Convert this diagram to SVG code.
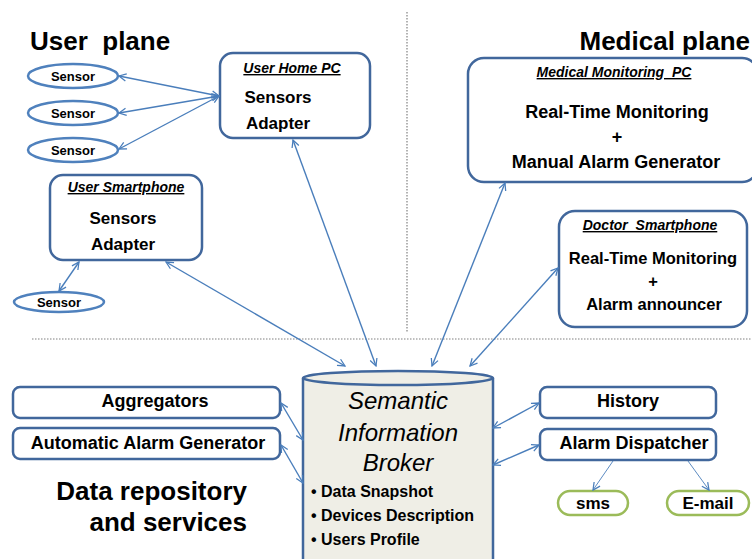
<svg xmlns="http://www.w3.org/2000/svg" width="752" height="559" viewBox="0 0 752 559">
<defs>
<marker id="ah" viewBox="0 0 10 10" refX="9" refY="5" markerWidth="9" markerHeight="9" markerUnits="userSpaceOnUse" orient="auto-start-reverse">
<path d="M1,1 L9,5 L1,9" fill="none" stroke="#4a7ebb" stroke-width="1.4"/>
</marker>
<style>
.box{fill:#fff;stroke:#41679c;stroke-width:2.5}
.sen{fill:#fff;stroke:#4f81bd;stroke-width:2.5}
.grn{fill:#fff;stroke:#9bbb59;stroke-width:2.5}
.ln{stroke:#4a7ebb;stroke-width:1.4;fill:none;marker-end:url(#ah)}
.bi{marker-start:url(#ah)}
.thin{stroke-width:0.9}
.dot{stroke:#808080;stroke-width:1.2;stroke-dasharray:1.5 1.5;fill:none}
text{font-family:"Liberation Sans",Arial,sans-serif;fill:#000}
.t{font-size:26px;font-weight:bold}
.s{font-size:13px;font-weight:bold;text-anchor:middle}
.h{font-size:14px;font-weight:bold;font-style:italic;text-decoration:underline;text-anchor:middle}
.b{font-size:17px;font-weight:bold;text-anchor:middle}
.bb{font-size:18px;font-weight:bold;text-anchor:middle}
.m{font-size:16.5px;font-weight:bold;text-anchor:middle}
.sib{font-size:24px;font-style:italic;text-anchor:middle}
.bl{font-size:16px;font-weight:bold}
</style>
</defs>
<rect width="752" height="559" fill="#fff"/>
<line class="dot" x1="407" y1="12" x2="407" y2="333"/>
<line class="dot" x1="32" y1="339" x2="752" y2="339"/>
<text class="t" x="30" y="50">User&#160; plane</text>
<text class="t" x="750" y="50" text-anchor="end">Medical plane</text>
<text class="t" x="247" y="500" text-anchor="end">Data repository</text>
<text class="t" x="247" y="531" text-anchor="end">and services</text>

<g id="sensor1"><ellipse class="sen" cx="73" cy="76" rx="45" ry="12"/><text class="s" x="73" y="81">Sensor</text></g>
<g id="sensor2"><ellipse class="sen" cx="73" cy="113" rx="45" ry="12"/><text class="s" x="73" y="118">Sensor</text></g>
<g id="sensor3"><ellipse class="sen" cx="73" cy="150" rx="45" ry="12"/><text class="s" x="73" y="155">Sensor</text></g>
<g id="sensor4"><ellipse class="sen" cx="59" cy="302" rx="45" ry="10"/><text class="s" x="59" y="307">Sensor</text></g>

<g id="homepc"><rect class="box" x="220" y="53" width="150" height="85" rx="13"/>
<text class="h" x="292" y="73">User Home PC</text>
<text class="b" x="278" y="103">Sensors</text>
<text class="b" x="278" y="129">Adapter</text></g>

<g id="usersmartphone"><rect class="box" x="50" y="175" width="152" height="85" rx="13"/>
<text class="h" x="126" y="192">User Smartphone</text>
<text class="b" x="123" y="224">Sensors</text>
<text class="b" x="123" y="250">Adapter</text></g>

<g id="medicalpc"><rect class="box" x="468" y="58" width="290" height="124" rx="16"/>
<text class="h" x="614" y="77">Medical Monitoring&#160; PC</text>
<text class="bb" x="617" y="118">Real-Time Monitoring</text>
<text class="bb" x="617" y="143">+</text>
<text class="bb" x="616" y="168">Manual Alarm Generator</text></g>

<g id="doctorsmartphone"><rect class="box" x="559" y="211" width="188" height="116" rx="16"/>
<text class="h" x="650" y="230">Doctor&#160; Smartphone</text>
<text class="m" x="653" y="264">Real-Time Monitoring</text>
<text class="m" x="653" y="287">+</text>
<text class="m" x="654" y="310">Alarm announcer</text></g>

<g id="sib">
<path d="M303,378 L303,565 L493,565 L493,378" fill="#efeee6" stroke="#41679c" stroke-width="2.5"/>
<ellipse cx="398" cy="378" rx="95" ry="7" fill="#efeee6" stroke="#41679c" stroke-width="2.5"/>
<text class="sib" x="398" y="409">Semantic</text>
<text class="sib" x="398" y="441">Information</text>
<text class="sib" x="398" y="471">Broker</text>
<text class="bl" x="311" y="497">• Data Snapshot</text>
<text class="bl" x="311" y="521">• Devices Description</text>
<text class="bl" x="311" y="545">• Users Profile</text>
</g>

<g id="aggregators"><rect class="box" x="13" y="387" width="267" height="31" rx="7"/><text class="bb" x="155" y="407">Aggregators</text></g>
<g id="autoalarm"><rect class="box" x="13" y="428" width="267" height="31" rx="7"/><text class="bb" x="148" y="449">Automatic Alarm Generator</text></g>
<g id="history"><rect class="box" x="540" y="387" width="176" height="31" rx="7"/><text class="bb" x="628" y="407">History</text></g>
<g id="alarmdispatcher"><rect class="box" x="540" y="429" width="176" height="31" rx="7"/><text class="bb" x="634" y="449">Alarm Dispatcher</text></g>
<g id="sms"><rect class="grn" x="558" y="491" width="70" height="24" rx="12"/><text class="b" x="593" y="509">sms</text></g>
<g id="email"><rect class="grn" x="667" y="491" width="82" height="24" rx="12"/><text class="b" x="708" y="509">E-mail</text></g>

<g id="connectors">
<line class="ln bi" x1="119" y1="76" x2="219" y2="96"/>
<line class="ln bi" x1="119" y1="113" x2="219" y2="96"/>
<line class="ln bi" x1="119" y1="149" x2="219" y2="96"/>
<line class="ln bi" x1="59" y1="291" x2="79" y2="262"/>
<line class="ln bi" x1="166" y1="262" x2="345" y2="366"/>
<line class="ln bi" x1="293" y1="140" x2="376" y2="366"/>
<line class="ln bi" x1="432" y1="366" x2="505" y2="183"/>
<line class="ln bi" x1="470" y1="366" x2="558" y2="268"/>
<line class="ln bi" x1="281" y1="403" x2="303" y2="440"/>
<line class="ln bi" x1="281" y1="445" x2="303" y2="483"/>
<line class="ln bi" x1="493" y1="428" x2="539" y2="403"/>
<line class="ln bi" x1="493" y1="465" x2="539" y2="445"/>
<line class="ln thin" x1="613" y1="461" x2="593" y2="490"/>
<line class="ln thin" x1="688" y1="461" x2="709" y2="490"/>
</g>
</svg>
